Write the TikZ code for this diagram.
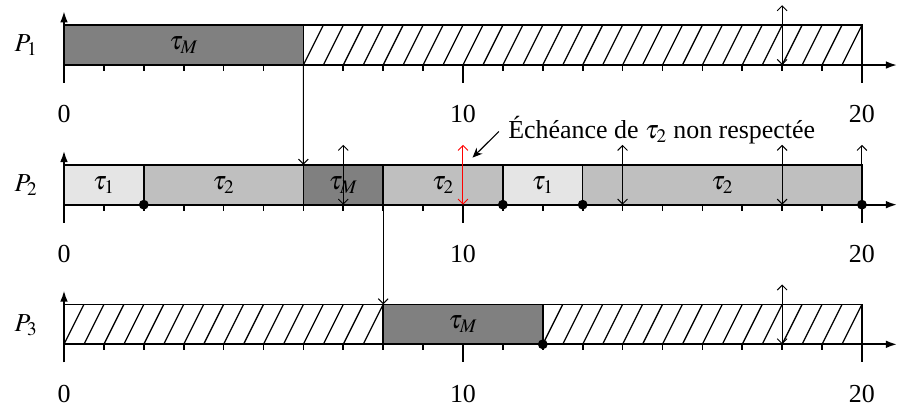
\documentclass[tikz,border=0pt]{standalone}
\usepackage{mathptmx}
\usepackage{fontspec}
\setmainfont{Liberation Serif}
\usetikzlibrary{arrows.meta}

\definecolor{fonce}{gray}{0.5}
\definecolor{moyen}{gray}{0.75}
\definecolor{clair}{gray}{0.9}

\begin{document}
\begin{tikzpicture}[
  font=\fontsize{18.5}{22}\selectfont,
  axe/.style={line width=1.3pt, -{Latex[length=8pt,width=5.5pt]}},
  graduation/.style={line width=1.2pt},
  tache/.style={draw, line width=1.1pt, minimum height=1cm, inner sep=0pt,
                outer sep=0pt, anchor=south west},
  hach/.style={line width=0.9pt},
  evt/.style={{Straight Barb[length=3.5pt,width=7pt]}-{Straight Barb[length=3.5pt,width=7pt]}, line width=0.7pt},
  act/.style={-{Straight Barb[length=3.5pt,width=7pt]}, line width=0.7pt},
  lien/.style={-{Straight Barb[length=3.5pt,width=7pt]}, line width=0.8pt},
  fin/.style={circle, fill=black, inner sep=0pt, minimum size=7pt}
]
\useasboundingbox (-1.604,1.63) rectangle (21.38,-8.62);

% axes des trois processeurs
\foreach \y/\n in {0/1,-3.5/2,-7/3}{
  \begin{scope}[yshift=\y cm]
    \foreach \t in {1,...,19} \draw[graduation] (\t,0) -- (\t,-0.15);
    \foreach \t in {10,20} \draw[graduation] (\t,0) -- (\t,-0.45);
    \foreach \t in {0,10,20} \node[anchor=base] at (\t,-1.45) {\t};
    \node[anchor=base] at (-0.95,0.33) {$P_\n$};
  \end{scope}
}

% P1
\node[tache, fill=fonce, minimum width=6cm] (m1) at (0,0) {$\tau_M$};
\node[tache, minimum width=14cm] (h1) at (6,0) {};
\foreach \x in {6,6.5,...,19.5} \draw[hach] (\x,0) -- ++(0.5,1);

% P2
\node[tache, fill=clair, minimum width=2cm] (a2) at (0,-3.5) {$\tau_1$};
\node[tache, fill=moyen, minimum width=4cm] (b2) at (2,-3.5) {$\tau_2$};
\node[tache, fill=fonce, minimum width=2cm] (m2) at (6,-3.5) {$\tau_M$};
\node[tache, fill=moyen, minimum width=3cm] (c2) at (8,-3.5) {$\tau_2$};
\node[tache, fill=clair, minimum width=2cm] (d2) at (11,-3.5) {$\tau_1$};
\node[tache, fill=moyen, minimum width=7cm] (e2) at (13,-3.5) {$\tau_2$};

% P3
\node[tache, minimum width=8cm] (h3) at (0,-7) {};
\node[tache, fill=fonce, minimum width=4cm] (m3) at (8,-7) {$\tau_M$};
\node[tache, minimum width=8cm] (k3) at (12,-7) {};
\foreach \x in {0,0.5,...,7.5} \draw[hach] (\x,-7) -- ++(0.5,1);
\foreach \x in {12,12.5,...,19.5} \draw[hach] (\x,-7) -- ++(0.5,1);

% axes par-dessus les taches
\foreach \y in {0,-3.5,-7}{
  \draw[axe] (0,\y) -- (20.88,\y);
  \draw[axe] (0,\y-0.45) -- (0,\y+1.35);
}

% activations / echeances
\draw[evt] (18,0) -- (18,1.5);
\foreach \t in {7,14,18} \draw[evt] (\t,-3.5) -- (\t,-2);
\draw[act] (20,-3.5) -- (20,-2);
\draw[evt, red] (10,-3.5) -- (10,-2);
\draw[evt] (18,-7) -- (18,-5.5);

% fins d'execution
\node[fin] (f1) at (2,-3.5) {};
\node[fin] (f2) at (11,-3.5) {};
\node[fin] (f3) at (13,-3.5) {};
\node[fin] (f4) at (20,-3.5) {};
\node[fin] (f5) at (12,-7) {};

% migrations
\draw[lien] (m1.south east) -- (m2.north west);
\draw[lien] (m2.south east) -- (m3.north west);

% depassement
\node[anchor=base west, inner sep=0pt] (ech) at (11.13,-1.846) {Échéance de $\tau_2$ non respectée};
\coordinate (rate) at (10.24,-2.32);
\draw[-{Stealth[length=7pt,width=6pt]}, line width=0.8pt] ([xshift=-0.23cm,yshift=0.18cm]ech.base west) -- (rate);
\end{tikzpicture}
\end{document}
